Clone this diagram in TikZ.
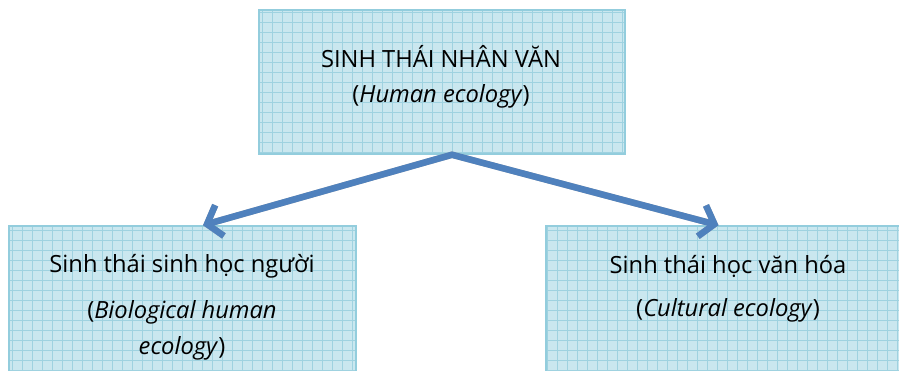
\documentclass[tikz,border=0pt]{standalone}
\usepackage{fontspec}
\setmainfont{Open Sans}
\usepackage{xcolor}
\usetikzlibrary{arrows.meta,positioning}
\definecolor{ecofill}{HTML}{CAE7EF}
\definecolor{ecogrid}{HTML}{9FD2E0}
\definecolor{ecoedge}{HTML}{93CDDD}
\definecolor{ecoblue}{HTML}{4F81BD}
\tikzset{
  ecobox/.style={draw=ecoedge, line width=1.5pt, fill=ecofill, inner sep=0pt,
    path picture={\draw[ecogrid, line width=0.9pt, step=10pt] (path picture bounding box.south west) grid (path picture bounding box.north east);}},
  ecotext/.style={align=center, text=black},
  ecoarr/.style={{Straight Barb[length=13pt,width=32pt]}-{Straight Barb[length=13pt,width=32pt]}, line width=6.5pt, line join=miter},
}

\begin{document}
\begin{tikzpicture}[x=1pt,y=-1pt]
\useasboundingbox (0,0) rectangle (899,371);
\node[ecobox, minimum width=366pt, minimum height=144pt] (human) at (442,82) {};
\node[ecobox, minimum width=347pt, minimum height=148pt] (bio) at (182.5,300) {};
\node[ecobox, minimum width=362pt, minimum height=148pt] (cult) at (727,300) {};
\node[ecotext, font=\fontsize{23.7}{35}\selectfont] (humantxt) at (441,77) {SINH THÁI NHÂN VĂN\\(\textit{Human ecology})};
\node[ecotext, font=\fontsize{23.7}{36}\selectfont] (biotxt) at (182,307.5) {Sinh thái sinh học người\\[10pt](\textit{Biological human}\\\textit{ecology})};
\node[ecotext, font=\fontsize{23.7}{36}\selectfont] (culttxt) at (728,289) {Sinh thái học văn hóa\\[7pt](\textit{Cultural ecology})};
% shadow, then arrows
\draw[ecoarr, gray!60, shift={(2,3.5)}] ([xshift=20.5pt]bio.north) -- ([xshift=10pt]human.south) -- ([xshift=-8.5pt]cult.north);
\draw[ecoarr, ecoblue] ([xshift=20.5pt]bio.north) -- ([xshift=10pt]human.south) -- ([xshift=-8.5pt]cult.north);
\end{tikzpicture}
\end{document}
